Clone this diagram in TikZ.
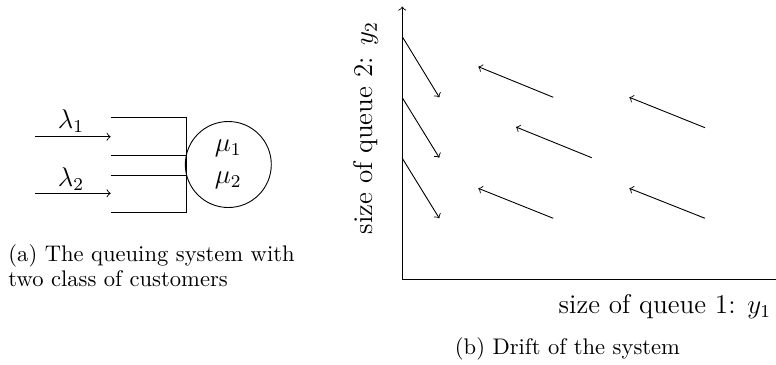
\documentclass[tikz,border=0pt]{standalone}
\begin{document}
\begin{tikzpicture}[x=0.443pt,y=-0.443pt,>=to,line width=0.4pt,
  mathlab/.style={font=\large,inner sep=0pt},
  axlab/.style={font=\large,inner sep=0pt},
  caption/.style={font=\fontsize{10}{11}\selectfont,inner sep=0pt},
  server/.style={circle,draw,minimum size=38.1pt,inner sep=0pt,align=center,font=\large}]
\useasboundingbox (0,0) rectangle (776,364);
% ---------- (a) queueing system ----------
\coordinate (q1a) at (110.7,117);
\coordinate (q1b) at (186.7,117);
\coordinate (q1c) at (110.7,155.7);
\coordinate (q1d) at (186.7,155.7);
\coordinate (q2a) at (110.7,175);
\coordinate (q2b) at (186.7,175);
\coordinate (q2c) at (110.7,212);
\coordinate (q2d) at (186.7,212);
\draw (q1a) -- (q1b) -- (q2d) -- (q2c);
\draw (q1c) -- (q1d);
\draw (q2a) -- (q2b);
\coordinate (in1s) at (35,136.7);
\coordinate (in1e) at (110.7,136.7);
\coordinate (in2s) at (35,193.3);
\coordinate (in2e) at (110.7,193.3);
\draw[->] (in1s) -- (in1e);
\draw[->] (in2s) -- (in2e);
\node[mathlab] (lam1) at (71,121) {$\lambda_1$};
\node[mathlab] (lam2) at (71,179) {$\lambda_2$};
\node[server] (srv) at (228.3,164.5) {$\mu_1$\\$\mu_2$};
\node[caption,anchor=base west,align=left] (capa) at (8,286)
  {(a) The queuing system with\\two class of customers};
% ---------- (b) drift ----------
\coordinate (O) at (402.3,279);
\coordinate (ytop) at (402.3,6.5);
\coordinate (xend) at (776,279);
\draw[->] (O) -- (ytop);
\draw (O) -- (xend);
% arrows from the y-axis
\coordinate (a1s) at (402.3,36.7);  \coordinate (a1e) at (439.3,97.3);
\coordinate (a2s) at (402.3,97.7);  \coordinate (a2e) at (439.3,157.7);
\coordinate (a3s) at (402.3,158.3); \coordinate (a3e) at (439.3,218.3);
\draw[->] (a1s) -- (a1e);
\draw[->] (a2s) -- (a2e);
\draw[->] (a3s) -- (a3e);
% interior drift arrows
\coordinate (b1s) at (553.3,97.3);  \coordinate (b1e) at (478.3,66.7);
\coordinate (b2s) at (705,127.7);   \coordinate (b2e) at (629.3,97.3);
\coordinate (b3s) at (591.7,157.7); \coordinate (b3e) at (516,127);
\coordinate (b4s) at (553.3,218.3); \coordinate (b4e) at (478.3,188.3);
\coordinate (b5s) at (705,218.3);   \coordinate (b5e) at (629.3,188.3);
\draw[->] (b1s) -- (b1e);
\draw[->] (b2s) -- (b2e);
\draw[->] (b3s) -- (b3e);
\draw[->] (b4s) -- (b4e);
\draw[->] (b5s) -- (b5e);
\node[axlab,anchor=base east] (xlab) at (771.5,313) {size of queue 1: $y_1$};
\node[axlab,rotate=90] (ylab) at (366,128) {size of queue 2: $y_2$};
\node[caption,anchor=base] (capb) at (567.5,354) {(b) Drift of the system};
\end{tikzpicture}
\end{document}
